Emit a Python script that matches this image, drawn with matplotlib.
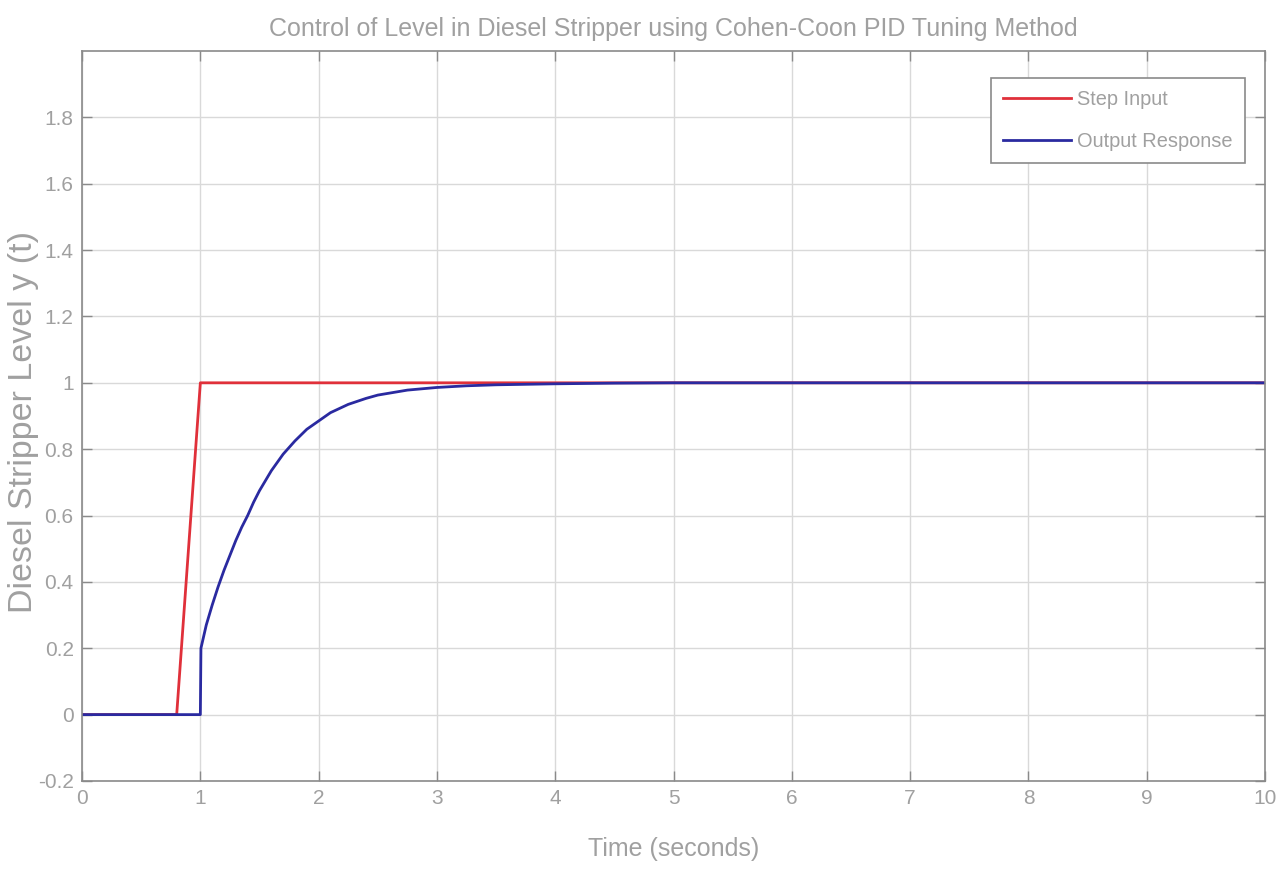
#!/usr/bin/env python3

import matplotlib

matplotlib.use("Agg")
import matplotlib.pyplot as plt
from matplotlib import font_manager

# step input (sampled ramp between 0.8 s and 1 s, as in the scope trace)
step_t = [0.0, 0.8, 1.0, 10.0]
step_y = [0.0, 0.0, 1.0, 1.0]

# closed-loop output
resp_t = [0.0, 1.0, 1.005, 1.05, 1.1, 1.15, 1.2, 1.25, 1.3, 1.35, 1.4, 1.45, 1.5,
          1.6, 1.7, 1.8, 1.9, 2.0, 2.1, 2.25, 2.4, 2.5, 2.75, 3.0, 3.25, 3.5,
          4.0, 4.5, 5.0, 10.0]
resp_y = [0.0, 0.0, 0.2, 0.27, 0.33, 0.385, 0.435, 0.48, 0.525, 0.565, 0.60, 0.64, 0.675,
          0.735, 0.785, 0.825, 0.86, 0.885, 0.91, 0.935, 0.953, 0.963, 0.978, 0.986, 0.991, 0.994,
          0.997, 0.999, 1.0, 1.0]

x_ticks = list(range(0, 11))
y_ticks = [-0.2, 0, 0.2, 0.4, 0.6, 0.8, 1, 1.2, 1.4, 1.6, 1.8]
y_tick_labels = ["-0.2", "0", "0.2", "0.4", "0.6", "0.8", "1", "1.2", "1.4", "1.6", "1.8"]

TITLE = "Control of Level in Diesel Stripper using Cohen-Coon PID Tuning Method"


def pick_font(names):
    for name in names:
        try:
            font_manager.findfont(name, fallback_to_default=False)
            return name
        except ValueError:
            continue
    return "DejaVu Sans"


narrow = pick_font(["Liberation Sans Narrow", "Liberation Sans"])
regular = pick_font(["Liberation Sans", "DejaVu Sans"])

text_grey = "#a0a0a0"
axis_grey = "#8a8a8a"

fig = plt.figure(figsize=(12.88, 8.69), dpi=100)
ax = fig.add_axes([0.0637, 0.1013, 0.9185, 0.84])

ax.plot(step_t, step_y, color="#e0303a", linewidth=2.0, label="Step Input")
ax.plot(resp_t, resp_y, color="#2a2aa0", linewidth=2.0, label="Output Response")

ax.set_xlim(0, 10)
ax.set_ylim(-0.2, 2.0)
ax.set_xticks(x_ticks)
ax.set_xticklabels([str(v) for v in x_ticks])
ax.set_yticks(y_ticks)
ax.set_yticklabels(y_tick_labels)

ax.grid(True, color="#d9d9d9", linewidth=1.0)
ax.tick_params(direction="in", top=True, right=True, length=7, width=1.0,
               color=axis_grey, labelcolor=text_grey, labelsize=15, pad=6)
for lab in ax.get_xticklabels() + ax.get_yticklabels():
    lab.set_fontfamily(narrow)
for sp in ax.spines.values():
    sp.set_color(axis_grey)
    sp.set_linewidth(1.2)

ax.set_title(TITLE, fontsize=18, color=text_grey, fontfamily=narrow, pad=11)
ax.set_xlabel("Time (seconds)", fontsize=18, color=text_grey, fontfamily=narrow)
ax.xaxis.set_label_coords(0.5, -0.077)
ax.set_ylabel("Diesel Stripper Level y (t)", fontsize=24.5, color=text_grey, fontfamily=regular)
ax.yaxis.set_label_coords(-0.036, 0.492)

leg = ax.legend(loc="upper right", bbox_to_anchor=(0.983, 0.963), borderaxespad=0,
                fancybox=False, framealpha=1.0, edgecolor=axis_grey,
                handlelength=3.4, handletextpad=0.3,
                prop={"family": narrow, "size": 14.4}, borderpad=0.6, labelspacing=1.15)
leg.get_frame().set_linewidth(1.2)
for txt in leg.get_texts():
    txt.set_color(text_grey)

fig.savefig("out.png", dpi=100)
